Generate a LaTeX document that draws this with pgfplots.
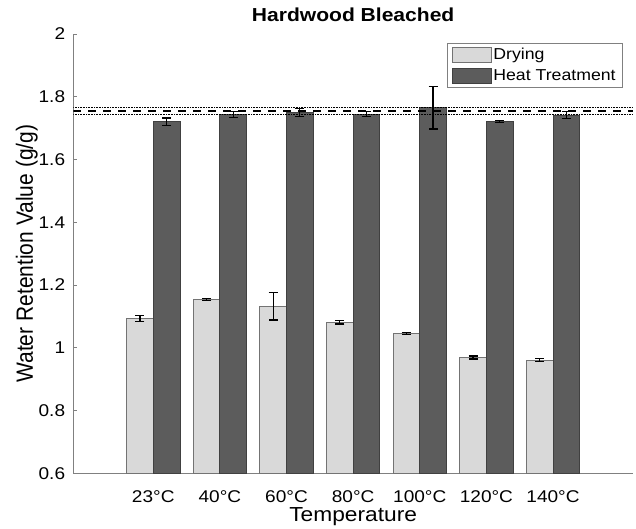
\documentclass[border=0pt]{standalone}
\usepackage{fontspec}
\setmainfont[FakeStretch=1.12]{Liberation Sans}
\newfontfamily\ylabfont[FakeStretch=0.893]{Liberation Sans}
\usepackage{pgfplots}
\pgfplotsset{compat=1.18}
\definecolor{dry}{HTML}{D9D9D9}
\definecolor{heat}{HTML}{5C5C5C}
\definecolor{axgray}{HTML}{808080}
\begin{document}
\begin{tikzpicture}
\useasboundingbox (-73.3pt,-54.7pt) rectangle (562.7pt,473.3pt);
\begin{axis}[
  at={(0pt,0pt)}, anchor=south west,
  scale only axis, width=559.7pt, height=439.3pt,
  xmin=-0.2, xmax=8.2, ymin=0.6, ymax=2,
  ybar, bar width=0.4,
  axis lines*=left,
  axis line style={axgray, line width=0.8pt},
  xtick={1,...,7},
  xticklabels={23°C,40°C,60°C,80°C,100°C,120°C,140°C},
  xtick style={draw=none},
  ytick={0.6,0.8,1,1.2,1.4,1.6,1.8,2},
  yticklabels={0.6,0.8,1,1.2,1.4,1.6,1.8,2},
  tick align=inside, major tick length=4pt,
  ytick style={axgray, line width=0.8pt},
  ticklabel style={font=\fontsize{17}{20}\selectfont},
  xticklabel style={anchor=base, yshift=-29.5pt},
  yticklabel style={anchor=east, inner sep=0pt, xshift=-8pt},
  xlabel={Temperature},
  xlabel style={font=\fontsize{20.3}{24}\selectfont, at={(rel axis cs:0.5,0)}, anchor=base, yshift=-48.5pt},
  ylabel={Water Retention Value (g/g)},
  ylabel style={font=\fontsize{23.5}{26}\ylabfont, at={(rel axis cs:-0.072,0.5)}, anchor=base},
  title={Hardwood Bleached},
  title style={font=\fontsize{18.8}{22}\selectfont\bfseries, at={(rel axis cs:0.5,1)}, anchor=base, yshift=6.7pt},
  legend style={at={(rel axis cs:0.982,0.979)}, anchor=north east, draw=axgray, line width=0.6pt,
    font=\fontsize{15.8}{18}\selectfont, inner xsep=5pt, inner ysep=3pt, row sep=4.5pt},
  legend cell align=left,
  legend image code/.code={\draw[#1, line width=0.8pt] (0pt,-7.5pt) rectangle (38.7pt,7.5pt);},
  error bars/error bar style={black, line width=1.3pt},
  error bars/error mark options={black, line width=1.3pt, mark size=4.5pt, rotate=90},
]
\addplot[fill=dry, draw=black!55, line width=0.8pt, bar shift=-0.2,
  error bars/.cd, y dir=both, y explicit]
  coordinates {
  (1,1.093) +- (0,0.009)
  (2,1.154) +- (0,0.003)
  (3,1.133) +- (0,0.044)
  (4,1.082) +- (0,0.006)
  (5,1.046) +- (0,0.003)
  (6,0.969) +- (0,0.005)
  (7,0.961) +- (0,0.005)
  };
\addlegendentry{Drying}
\addplot[fill=heat, draw=black!75, line width=0.8pt, bar shift=0.2,
  error bars/.cd, y dir=both, y explicit]
  coordinates {
  (1,1.720) +- (0,0.012)
  (2,1.744) +- (0,0.009)
  (3,1.750) +- (0,0.013)
  (4,1.744) +- (0,0.008)
  (5,1.765) +- (0,0.068)
  (6,1.722) +- (0,0.003)
  (7,1.742) +- (0,0.011)
  };
\addlegendentry{Heat Treatment}
\addplot[sharp plot, black, line width=1.3pt, dash pattern=on 8pt off 7pt, forget plot]
  coordinates {(-0.2,1.755) (8.2,1.755)};
\addplot[sharp plot, black, line width=0.7pt, dash pattern=on 0.8pt off 0.8pt, forget plot]
  coordinates {(-0.2,1.765) (8.2,1.765)};
\addplot[sharp plot, black, line width=0.7pt, dash pattern=on 0.8pt off 0.8pt, forget plot]
  coordinates {(-0.2,1.745) (8.2,1.745)};
\end{axis}
\end{tikzpicture}
\end{document}
